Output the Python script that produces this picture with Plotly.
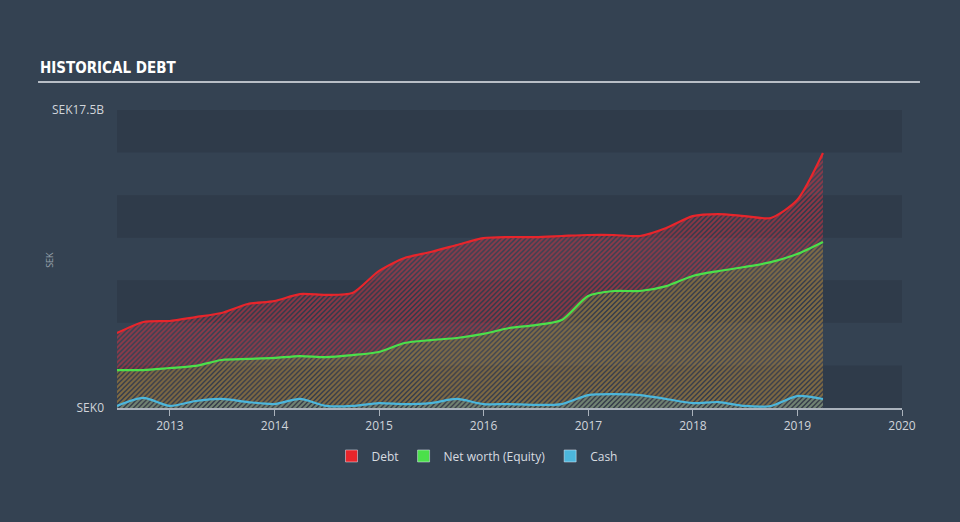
import plotly.graph_objects as go

dates = [
    "2012-06-30", "2012-09-30", "2012-12-31", "2013-03-31", "2013-06-30", "2013-09-30", "2013-12-31",
    "2014-03-31", "2014-06-30", "2014-09-30", "2014-12-31", "2015-03-31", "2015-06-30", "2015-09-30",
    "2015-12-31", "2016-03-31", "2016-06-30", "2016-09-30", "2016-12-31", "2017-03-31", "2017-06-30",
    "2017-09-30", "2017-12-31", "2018-03-31", "2018-06-30", "2018-09-30", "2018-12-31", "2019-03-31",
]
debt = [4.40, 5.05, 5.11, 5.34, 5.58, 6.11, 6.28, 6.69, 6.64, 6.75, 8.04, 8.81, 9.16, 9.57,
        9.98, 10.04, 10.04, 10.10, 10.16, 10.16, 10.10, 10.57, 11.27, 11.39, 11.27, 11.16, 12.21, 14.97]
equity = [2.23, 2.23, 2.35, 2.47, 2.82, 2.88, 2.94, 3.05, 2.99, 3.11, 3.29, 3.82, 3.99, 4.11,
          4.35, 4.70, 4.87, 5.17, 6.58, 6.87, 6.87, 7.16, 7.75, 8.04, 8.28, 8.57, 9.04, 9.75]
cash = [0.12, 0.59, 0.12, 0.41, 0.53, 0.35, 0.23, 0.53, 0.12, 0.12, 0.29, 0.23, 0.29, 0.53,
        0.23, 0.23, 0.18, 0.23, 0.76, 0.82, 0.76, 0.53, 0.29, 0.35, 0.12, 0.12, 0.70, 0.53]

series_names = ["Debt", "Net worth (Equity)", "Cash"]
y_tick_vals = [0, 17.5]
y_tick_text = ["SEK0", "SEK17.5B"]
band_edges = [(0, 2.5), (5, 7.5), (10, 12.5), (15, 17.5)]

BG = "#344252"
BAND = "#2f3b4a"
RED = "#e8252b"
GREEN = "#4be04b"
BLUE = "#4cb6dc"

fig = go.Figure()

def area(y, color, fg, name, solidity):
    fig.add_trace(go.Scatter(
        x=dates, y=y, name=name, mode="lines",
        line=dict(color=color, width=2.2, shape="spline", smoothing=0.7),
        fill="tozeroy", fillcolor="rgba(0,0,0,0)",
        fillpattern=dict(shape="/", fgcolor=fg, bgcolor="rgba(0,0,0,0)", size=3.5, solidity=solidity),
        showlegend=False, hoverinfo="skip",
    ))

area(debt, RED, "rgba(235,50,65,1)", series_names[0], 0.55)
area(equity, GREEN, "rgba(100,205,60,0.72)", series_names[1], 0.55)
area(cash, BLUE, "rgba(76,182,220,0.65)", series_names[2], 0.55)

for name, col in zip(series_names, [RED, GREEN, BLUE]):
    fig.add_trace(go.Bar(x=[None], y=[None], name=name, marker_color=col, showlegend=True))

shapes = []
for lo, hi in band_edges:
    shapes.append(dict(type="rect", xref="paper", yref="y", x0=0, x1=1, y0=lo, y1=hi,
                       fillcolor=BAND, line=dict(width=0), layer="below"))
# title underline
shapes.append(dict(type="line", xref="paper", yref="paper", x0=-0.1006, x1=1.0229, y0=1.094, y1=1.094,
                   line=dict(color="#b8bec6", width=2)))

fig.update_layout(
    width=960, height=522,
    margin=dict(l=117, r=58, t=110, b=114),
    paper_bgcolor=BG, plot_bgcolor=BG,
    font=dict(family="Open Sans, Lato, sans-serif", color="#d0d4da", size=12),
    shapes=shapes,
    showlegend=True,
    legend=dict(orientation="h", x=0.4586, xanchor="center", y=-0.161, yanchor="middle",
                font=dict(size=12, color="#d8dce0"), bgcolor="rgba(0,0,0,0)"),
    annotations=[
        dict(text="<b>HISTORICAL DEBT</b>", xref="paper", yref="paper", x=-0.1006, y=1.141,
             xanchor="left", yanchor="middle", showarrow=False,
             font=dict(family="DejaVu Sans Condensed, Liberation Sans Narrow, sans-serif", size=15, color="#ffffff")),
        dict(text="SEK", xref="paper", yref="paper", x=-0.0854, y=0.497, textangle=-90,
             xanchor="center", yanchor="middle", showarrow=False,
             font=dict(size=9, color="#9aa3ad")),
    ],
    xaxis=dict(type="date", range=["2012-06-30", "2020-01-01"], tick0="2013-01-01", dtick="M12",
               tickformat="%Y", showgrid=False, zeroline=False, showline=True,
               linecolor="#aab2bc", linewidth=1.5, ticks="outside", ticklen=6, tickcolor="#aab2bc",
               tickfont=dict(size=12, color="#d0d4da")),
    yaxis=dict(range=[0, 17.5], tickvals=y_tick_vals, ticktext=y_tick_text, showgrid=False,
               zeroline=False, showline=False, ticks="", ticklabelstandoff=12,
               tickfont=dict(size=12, color="#d0d4da")),
)

fig.write_html("out.html")
